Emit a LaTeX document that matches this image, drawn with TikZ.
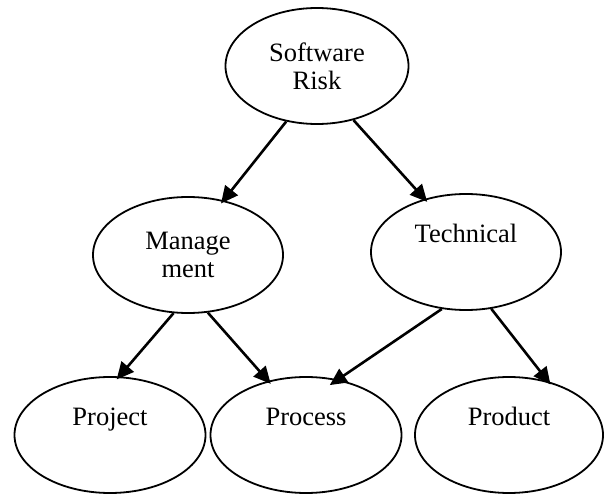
\documentclass[tikz,border=0pt]{standalone}
\usepackage{fontspec}
\setmainfont{Liberation Serif}
\usetikzlibrary{shapes.geometric,arrows.meta}
\begin{document}
\begin{tikzpicture}[x=1pt,y=-1pt,
        oval/.style={draw,ellipse,line width=1.8pt,inner sep=0pt,minimum width=190pt,minimum height=116pt,align=center,font=\fontsize{26.5}{28}\selectfont},
        arr/.style={-{Triangle[length=17pt,width=16pt]},line width=2.6pt,shorten >=-4pt}]
        \useasboundingbox (0,0) rectangle (606,495);

        \node[oval,minimum width=183pt] (risk) at (317,66){Software\\Risk};
        \node[oval] (mgmt) at (188,255){Manage\\ment};
        \node[oval] (tech) at (466,252){Technical\\\strut};
        \node[oval,minimum width=191pt] (proj) at (110,435){Project\\\strut};
        \node[oval,minimum width=191pt] (proc) at (306,435){Process\\\strut};
        \node[oval,minimum width=188pt] (prod) at (509,435){Product\\\strut};

        \draw[arr] (risk.-119) -- (mgmt.57);
        \draw[arr] (risk.-56) -- (tech.128);
        \draw[arr] (mgmt.-104) -- (proj.81);
        \draw[arr] (mgmt.-71) -- (proc.125);
        \draw[arr,shorten >=-10pt] (tech.-113) -- (proc.60);
        \draw[arr] (tech.-66) -- (prod.54);
    \end{tikzpicture}
\end{document}
